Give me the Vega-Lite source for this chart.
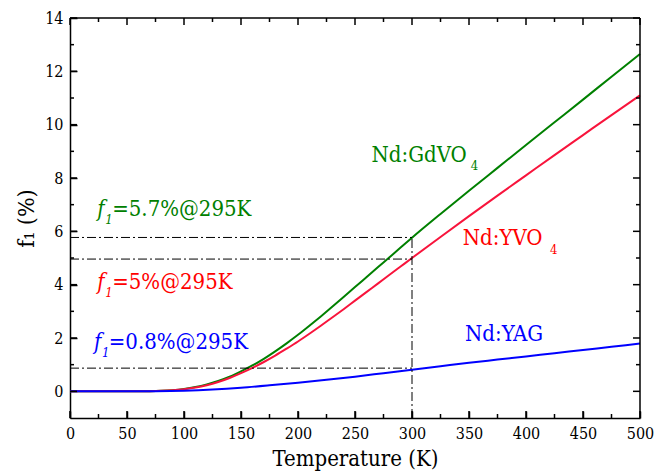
{
  "$schema": "https://vega.github.io/schema/vega-lite/v6.json",
  "width": 570,
  "height": 400,
  "autosize": {"type": "none"},
  "padding": {"left": 70, "top": 18, "right": 15, "bottom": 57},
  "background": "white",
  "config": {
    "view": {"stroke": null}
  },
  "datasets": {
    "curves": [
      {"T": 0, "f": 0, "s": "Nd:GdVO4"}, {"T": 25, "f": 0, "s": "Nd:GdVO4"}, {"T": 50, "f": 0, "s": "Nd:GdVO4"},
      {"T": 60, "f": 0.002, "s": "Nd:GdVO4"}, {"T": 70, "f": 0.007, "s": "Nd:GdVO4"}, {"T": 80, "f": 0.02, "s": "Nd:GdVO4"},
      {"T": 90, "f": 0.045, "s": "Nd:GdVO4"}, {"T": 100, "f": 0.09, "s": "Nd:GdVO4"}, {"T": 110, "f": 0.16, "s": "Nd:GdVO4"},
      {"T": 120, "f": 0.26, "s": "Nd:GdVO4"}, {"T": 130, "f": 0.39, "s": "Nd:GdVO4"}, {"T": 140, "f": 0.55, "s": "Nd:GdVO4"},
      {"T": 150, "f": 0.75, "s": "Nd:GdVO4"}, {"T": 160, "f": 0.97, "s": "Nd:GdVO4"}, {"T": 170, "f": 1.22, "s": "Nd:GdVO4"},
      {"T": 180, "f": 1.5, "s": "Nd:GdVO4"}, {"T": 190, "f": 1.8, "s": "Nd:GdVO4"}, {"T": 200, "f": 2.12, "s": "Nd:GdVO4"},
      {"T": 210, "f": 2.46, "s": "Nd:GdVO4"}, {"T": 220, "f": 2.81, "s": "Nd:GdVO4"}, {"T": 230, "f": 3.17, "s": "Nd:GdVO4"},
      {"T": 240, "f": 3.54, "s": "Nd:GdVO4"}, {"T": 250, "f": 3.91, "s": "Nd:GdVO4"}, {"T": 260, "f": 4.28, "s": "Nd:GdVO4"},
      {"T": 270, "f": 4.65, "s": "Nd:GdVO4"}, {"T": 280, "f": 5.02, "s": "Nd:GdVO4"}, {"T": 290, "f": 5.39, "s": "Nd:GdVO4"},
      {"T": 300, "f": 5.76, "s": "Nd:GdVO4"}, {"T": 325, "f": 6.65, "s": "Nd:GdVO4"}, {"T": 350, "f": 7.52, "s": "Nd:GdVO4"},
      {"T": 375, "f": 8.38, "s": "Nd:GdVO4"}, {"T": 400, "f": 9.24, "s": "Nd:GdVO4"}, {"T": 425, "f": 10.09, "s": "Nd:GdVO4"},
      {"T": 450, "f": 10.94, "s": "Nd:GdVO4"}, {"T": 475, "f": 11.8, "s": "Nd:GdVO4"}, {"T": 500, "f": 12.65, "s": "Nd:GdVO4"},
      {"T": 0, "f": 0, "s": "Nd:YVO4"}, {"T": 25, "f": 0, "s": "Nd:YVO4"}, {"T": 50, "f": 0, "s": "Nd:YVO4"},
      {"T": 60, "f": 0.002, "s": "Nd:YVO4"}, {"T": 70, "f": 0.006, "s": "Nd:YVO4"}, {"T": 80, "f": 0.018, "s": "Nd:YVO4"},
      {"T": 90, "f": 0.04, "s": "Nd:YVO4"}, {"T": 100, "f": 0.08, "s": "Nd:YVO4"}, {"T": 110, "f": 0.14, "s": "Nd:YVO4"},
      {"T": 120, "f": 0.23, "s": "Nd:YVO4"}, {"T": 130, "f": 0.35, "s": "Nd:YVO4"}, {"T": 140, "f": 0.5, "s": "Nd:YVO4"},
      {"T": 150, "f": 0.68, "s": "Nd:YVO4"}, {"T": 160, "f": 0.88, "s": "Nd:YVO4"}, {"T": 170, "f": 1.1, "s": "Nd:YVO4"},
      {"T": 180, "f": 1.34, "s": "Nd:YVO4"}, {"T": 190, "f": 1.6, "s": "Nd:YVO4"}, {"T": 200, "f": 1.87, "s": "Nd:YVO4"},
      {"T": 210, "f": 2.16, "s": "Nd:YVO4"}, {"T": 220, "f": 2.46, "s": "Nd:YVO4"}, {"T": 230, "f": 2.77, "s": "Nd:YVO4"},
      {"T": 240, "f": 3.08, "s": "Nd:YVO4"}, {"T": 250, "f": 3.4, "s": "Nd:YVO4"}, {"T": 260, "f": 3.72, "s": "Nd:YVO4"},
      {"T": 270, "f": 4.04, "s": "Nd:YVO4"}, {"T": 280, "f": 4.36, "s": "Nd:YVO4"}, {"T": 290, "f": 4.68, "s": "Nd:YVO4"},
      {"T": 300, "f": 5.0, "s": "Nd:YVO4"}, {"T": 325, "f": 5.79, "s": "Nd:YVO4"}, {"T": 350, "f": 6.57, "s": "Nd:YVO4"},
      {"T": 375, "f": 7.34, "s": "Nd:YVO4"}, {"T": 400, "f": 8.1, "s": "Nd:YVO4"}, {"T": 425, "f": 8.86, "s": "Nd:YVO4"},
      {"T": 450, "f": 9.61, "s": "Nd:YVO4"}, {"T": 475, "f": 10.36, "s": "Nd:YVO4"}, {"T": 500, "f": 11.1, "s": "Nd:YVO4"},
      {"T": 0, "f": 0, "s": "Nd:YAG"}, {"T": 25, "f": 0, "s": "Nd:YAG"}, {"T": 50, "f": 0, "s": "Nd:YAG"},
      {"T": 75, "f": 0.005, "s": "Nd:YAG"}, {"T": 100, "f": 0.025, "s": "Nd:YAG"}, {"T": 125, "f": 0.068, "s": "Nd:YAG"},
      {"T": 150, "f": 0.135, "s": "Nd:YAG"}, {"T": 175, "f": 0.225, "s": "Nd:YAG"}, {"T": 200, "f": 0.325, "s": "Nd:YAG"},
      {"T": 225, "f": 0.435, "s": "Nd:YAG"}, {"T": 250, "f": 0.55, "s": "Nd:YAG"}, {"T": 275, "f": 0.68, "s": "Nd:YAG"},
      {"T": 300, "f": 0.81, "s": "Nd:YAG"}, {"T": 325, "f": 0.94, "s": "Nd:YAG"}, {"T": 350, "f": 1.07, "s": "Nd:YAG"},
      {"T": 375, "f": 1.19, "s": "Nd:YAG"}, {"T": 400, "f": 1.31, "s": "Nd:YAG"}, {"T": 425, "f": 1.43, "s": "Nd:YAG"},
      {"T": 450, "f": 1.55, "s": "Nd:YAG"}, {"T": 475, "f": 1.67, "s": "Nd:YAG"}, {"T": 500, "f": 1.79, "s": "Nd:YAG"}
    ],
    "refs": [
      {"x": 0, "x2": 300, "y": 5.77, "y2": 5.77},
      {"x": 0, "x2": 300, "y": 4.96, "y2": 4.96},
      {"x": 0, "x2": 300, "y": 0.87, "y2": 0.87},
      {"x": 300, "x2": 300, "y": -1, "y2": 5.77}
    ],
    "frame": [
      {"x": 0, "x2": 500, "y": 14, "y2": 14},
      {"x": 500, "x2": 500, "y": -1, "y2": 14}
    ],
    "xticks": [
      {"v": 0, "m": "major"}, {"v": 25, "m": "minor"}, {"v": 50, "m": "major"}, {"v": 75, "m": "minor"},
      {"v": 100, "m": "major"}, {"v": 125, "m": "minor"}, {"v": 150, "m": "major"}, {"v": 175, "m": "minor"},
      {"v": 200, "m": "major"}, {"v": 225, "m": "minor"}, {"v": 250, "m": "major"}, {"v": 275, "m": "minor"},
      {"v": 300, "m": "major"}, {"v": 325, "m": "minor"}, {"v": 350, "m": "major"}, {"v": 375, "m": "minor"},
      {"v": 400, "m": "major"}, {"v": 425, "m": "minor"}, {"v": 450, "m": "major"}, {"v": 475, "m": "minor"},
      {"v": 500, "m": "major"}
    ],
    "yticks": [
      {"v": 0, "m": "major"}, {"v": 1, "m": "minor"}, {"v": 2, "m": "major"}, {"v": 3, "m": "minor"},
      {"v": 4, "m": "major"}, {"v": 5, "m": "minor"}, {"v": 6, "m": "major"}, {"v": 7, "m": "minor"},
      {"v": 8, "m": "major"}, {"v": 9, "m": "minor"}, {"v": 10, "m": "major"}, {"v": 11, "m": "minor"},
      {"v": 12, "m": "major"}, {"v": 13, "m": "minor"}, {"v": 14, "m": "major"}
    ],
    "notes": [
      {"part": "label", "s": "Nd:GdVO4", "x": 264.5, "y": 8.61, "t": "Nd:GdVO"},
      {"part": "sub", "s": "Nd:GdVO4", "x": 351.5, "y": 8.3, "t": "4"},
      {"part": "label", "s": "Nd:YVO4", "x": 344.5, "y": 5.48, "t": "Nd:YVO"},
      {"part": "sub", "s": "Nd:YVO4", "x": 421, "y": 5.15, "t": "4"},
      {"part": "label", "s": "Nd:YAG", "x": 346.5, "y": 1.89, "t": "Nd:YAG"},
      {"part": "f", "s": "Nd:GdVO4", "x": 24, "y": 6.57, "t": "f"},
      {"part": "fsub", "s": "Nd:GdVO4", "x": 31, "y": 6.27, "t": "1"},
      {"part": "label", "s": "Nd:GdVO4", "x": 37, "y": 6.57, "t": "=5.7%@295K"},
      {"part": "f", "s": "Nd:YVO4", "x": 24, "y": 3.82, "t": "f"},
      {"part": "fsub", "s": "Nd:YVO4", "x": 31, "y": 3.52, "t": "1"},
      {"part": "label", "s": "Nd:YVO4", "x": 37, "y": 3.82, "t": "=5%@295K"},
      {"part": "f", "s": "Nd:YAG", "x": 21, "y": 1.57, "t": "f"},
      {"part": "fsub", "s": "Nd:YAG", "x": 28, "y": 1.28, "t": "1"},
      {"part": "label", "s": "Nd:YAG", "x": 34, "y": 1.57, "t": "=0.8%@295K"}
    ]
  },
  "layer": [
    {
      "data": {"name": "curves"},
      "mark": {"type": "line", "strokeWidth": 2, "interpolate": "monotone"},
      "encoding": {
        "x": {
          "field": "T", "type": "quantitative",
          "scale": {"domain": [0, 500], "nice": false},
          "axis": {
            "orient": "bottom",
            "values": [0, 50, 100, 150, 200, 250, 300, 350, 400, 450, 500],
            "ticks": true, "tickSize": -7, "tickColor": "black", "tickWidth": 1.5, "tickOpacity": 1,
            "domain": true, "domainColor": "black", "domainWidth": 1.5,
            "grid": false,
            "labelFont": "DejaVu Serif Condensed", "labelFontSize": 16, "labelColor": "black", "labelPadding": 14,
            "labelFlush": false, "labelOverlap": false,
            "title": "Temperature (K)", "titleFont": "DejaVu Serif Condensed", "titleFontSize": 22, "titleFontWeight": "normal", "titleColor": "black",
            "titlePadding": 7
          }
        },
        "y": {
          "field": "f", "type": "quantitative",
          "scale": {"domain": [-1, 14], "nice": false, "zero": false},
          "axis": {
            "orient": "left",
            "values": [0, 2, 4, 6, 8, 10, 12, 14],
            "ticks": true, "tickSize": -7, "tickColor": "black", "tickWidth": 1.5, "tickOpacity": 1,
            "domain": true, "domainColor": "black", "domainWidth": 1.5,
            "grid": false,
            "labelFont": "DejaVu Serif Condensed", "labelFontSize": 16, "labelColor": "black", "labelPadding": 14,
            "labelFlush": false, "labelOverlap": false,
            "title": "f₁ (%)", "titleFont": "DejaVu Serif Condensed", "titleFontSize": 23, "titleFontWeight": "normal", "titleColor": "black",
            "titlePadding": 6
          }
        },
        "color": {
          "field": "s", "type": "nominal",
          "scale": {"domain": ["Nd:GdVO4", "Nd:YVO4", "Nd:YAG"], "range": ["#008000", "#f8143c", "#0000ff"]},
          "legend": null
        }
      }
    },
    {
      "data": {"name": "refs"},
      "mark": {"type": "rule", "strokeDash": [9, 3, 2, 3], "strokeWidth": 1, "color": "black"},
      "encoding": {
        "x": {"field": "x", "type": "quantitative"},
        "x2": {"field": "x2"},
        "y": {"field": "y", "type": "quantitative"},
        "y2": {"field": "y2"}
      }
    },
    {
      "data": {"name": "frame"},
      "mark": {"type": "rule", "strokeWidth": 1.5, "color": "black"},
      "encoding": {
        "x": {"field": "x", "type": "quantitative"},
        "x2": {"field": "x2"},
        "y": {"field": "y", "type": "quantitative"},
        "y2": {"field": "y2"}
      }
    },
    {
      "data": {"name": "xticks"},
      "transform": [{"filter": "datum.m === 'major'"}],
      "mark": {"type": "tick", "orient": "vertical", "thickness": 1.5, "size": 7, "yOffset": -3.5, "color": "black", "opacity": 1},
      "encoding": {
        "x": {"field": "v", "type": "quantitative"},
        "y": {"datum": -1, "type": "quantitative"}
      }
    },
    {
      "data": {"name": "xticks"},
      "transform": [{"filter": "datum.m === 'minor'"}],
      "mark": {"type": "tick", "orient": "vertical", "thickness": 1.5, "size": 4, "yOffset": -2, "color": "black", "opacity": 1},
      "encoding": {
        "x": {"field": "v", "type": "quantitative"},
        "y": {"datum": -1, "type": "quantitative"}
      }
    },
    {
      "data": {"name": "xticks"},
      "transform": [{"filter": "datum.m === 'major'"}],
      "mark": {"type": "tick", "orient": "vertical", "thickness": 1.5, "size": 7, "yOffset": 3.5, "color": "black", "opacity": 1},
      "encoding": {
        "x": {"field": "v", "type": "quantitative"},
        "y": {"datum": 14, "type": "quantitative"}
      }
    },
    {
      "data": {"name": "xticks"},
      "transform": [{"filter": "datum.m === 'minor'"}],
      "mark": {"type": "tick", "orient": "vertical", "thickness": 1.5, "size": 4, "yOffset": 2, "color": "black", "opacity": 1},
      "encoding": {
        "x": {"field": "v", "type": "quantitative"},
        "y": {"datum": 14, "type": "quantitative"}
      }
    },
    {
      "data": {"name": "yticks"},
      "transform": [{"filter": "datum.m === 'major'"}],
      "mark": {"type": "tick", "orient": "horizontal", "thickness": 1.5, "size": 7, "xOffset": 3.5, "color": "black", "opacity": 1},
      "encoding": {
        "y": {"field": "v", "type": "quantitative"},
        "x": {"datum": 0, "type": "quantitative"}
      }
    },
    {
      "data": {"name": "yticks"},
      "transform": [{"filter": "datum.m === 'minor'"}],
      "mark": {"type": "tick", "orient": "horizontal", "thickness": 1.5, "size": 4, "xOffset": 2, "color": "black", "opacity": 1},
      "encoding": {
        "y": {"field": "v", "type": "quantitative"},
        "x": {"datum": 0, "type": "quantitative"}
      }
    },
    {
      "data": {"name": "yticks"},
      "transform": [{"filter": "datum.m === 'major'"}],
      "mark": {"type": "tick", "orient": "horizontal", "thickness": 1.5, "size": 7, "xOffset": -3.5, "color": "black", "opacity": 1},
      "encoding": {
        "y": {"field": "v", "type": "quantitative"},
        "x": {"datum": 500, "type": "quantitative"}
      }
    },
    {
      "data": {"name": "yticks"},
      "transform": [{"filter": "datum.m === 'minor'"}],
      "mark": {"type": "tick", "orient": "horizontal", "thickness": 1.5, "size": 4, "xOffset": -2, "color": "black", "opacity": 1},
      "encoding": {
        "y": {"field": "v", "type": "quantitative"},
        "x": {"datum": 500, "type": "quantitative"}
      }
    },
    {
      "data": {"name": "notes"},
      "transform": [{"filter": "datum.part === 'label'"}],
      "mark": {"type": "text", "font": "DejaVu Serif Condensed", "fontSize": 22, "align": "left", "baseline": "alphabetic"},
      "encoding": {
        "x": {"field": "x", "type": "quantitative"},
        "y": {"field": "y", "type": "quantitative"},
        "text": {"field": "t"},
        "color": {"field": "s", "type": "nominal", "scale": {"domain": ["Nd:GdVO4", "Nd:YVO4", "Nd:YAG"], "range": ["#008000", "#ff0000", "#0000ff"]}, "legend": null}
      }
    },
    {
      "data": {"name": "notes"},
      "transform": [{"filter": "datum.part === 'sub'"}],
      "mark": {"type": "text", "font": "DejaVu Serif Condensed", "fontSize": 13, "align": "left", "baseline": "alphabetic"},
      "encoding": {
        "x": {"field": "x", "type": "quantitative"},
        "y": {"field": "y", "type": "quantitative"},
        "text": {"field": "t"},
        "color": {"field": "s", "type": "nominal", "scale": {"domain": ["Nd:GdVO4", "Nd:YVO4", "Nd:YAG"], "range": ["#008000", "#ff0000", "#0000ff"]}, "legend": null}
      }
    },
    {
      "data": {"name": "notes"},
      "transform": [{"filter": "datum.part === 'f'"}],
      "mark": {"type": "text", "font": "DejaVu Serif Condensed", "fontSize": 22, "fontStyle": "italic", "align": "left", "baseline": "alphabetic"},
      "encoding": {
        "x": {"field": "x", "type": "quantitative"},
        "y": {"field": "y", "type": "quantitative"},
        "text": {"field": "t"},
        "color": {"field": "s", "type": "nominal", "scale": {"domain": ["Nd:GdVO4", "Nd:YVO4", "Nd:YAG"], "range": ["#008000", "#ff0000", "#0000ff"]}, "legend": null}
      }
    },
    {
      "data": {"name": "notes"},
      "transform": [{"filter": "datum.part === 'fsub'"}],
      "mark": {"type": "text", "font": "DejaVu Serif Condensed", "fontSize": 13, "fontStyle": "italic", "align": "left", "baseline": "alphabetic"},
      "encoding": {
        "x": {"field": "x", "type": "quantitative"},
        "y": {"field": "y", "type": "quantitative"},
        "text": {"field": "t"},
        "color": {"field": "s", "type": "nominal", "scale": {"domain": ["Nd:GdVO4", "Nd:YVO4", "Nd:YAG"], "range": ["#008000", "#ff0000", "#0000ff"]}, "legend": null}
      }
    }
  ],
  "resolve": {"scale": {"color": "independent"}}
}
